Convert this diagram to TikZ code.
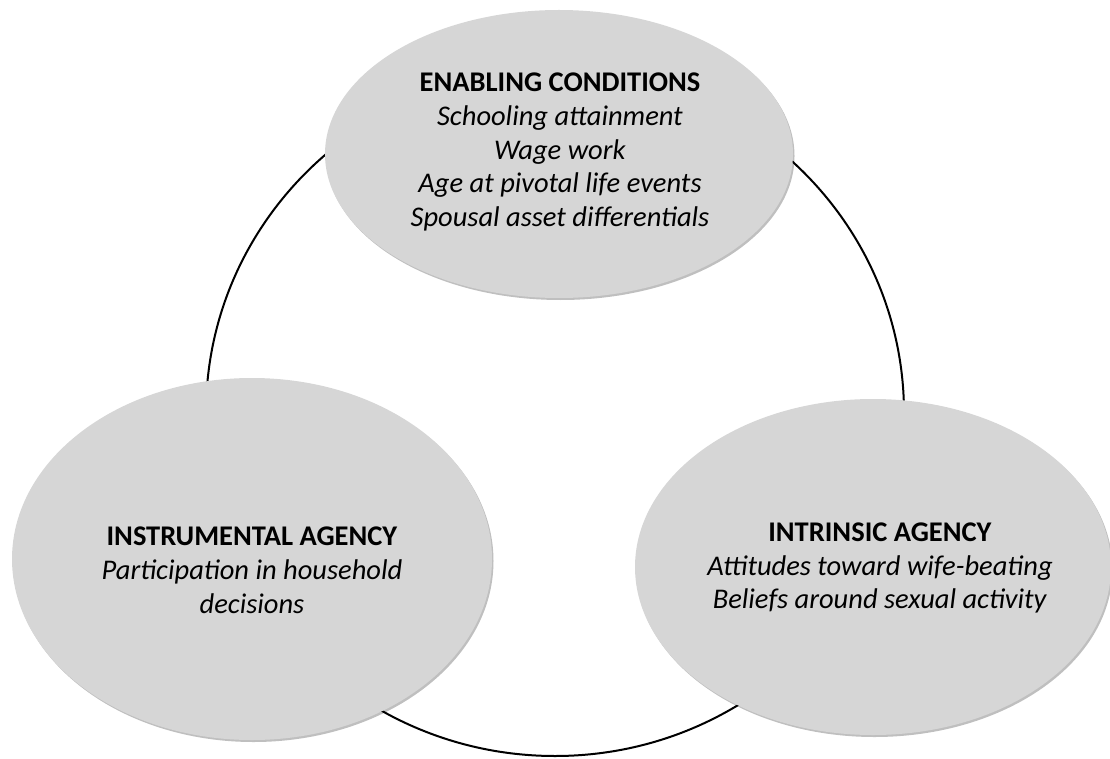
\documentclass[tikz,border=0pt]{standalone}
\usepackage{fontspec}
\setmainfont{Carlito}
\usetikzlibrary{shapes.geometric,shadows}
\definecolor{ellgray}{RGB}{214,214,214}
\begin{document}
\begin{tikzpicture}[x=1pt,y=-1pt,
  bubble/.style={ellipse, fill=ellgray, inner sep=0pt,
    drop shadow={shadow xshift=1.5pt, shadow yshift=-2pt, opacity=0.25, fill=black}},
  ringshape/.style={ellipse, draw=black, line width=2pt, inner sep=0pt},
  txt/.style={align=center, font=\fontsize{28.5}{33.8}\selectfont, text=black, inner sep=0pt}
]
\useasboundingbox (0,0) rectangle (1110,759);
\node[ringshape, minimum width=698pt, minimum height=686pt] (ring) at (555,413) {};
\node[bubble, minimum width=468pt, minimum height=288pt] (enab) at (559,154) {};
\node[bubble, minimum width=480pt, minimum height=362pt] (instr) at (252,559) {};
\node[bubble, minimum width=476pt, minimum height=336pt] (intr) at (873,567) {};
\node[txt] (enabtxt) at (560,152) {\textbf{ENABLING CONDITIONS}\\\textit{Schooling attainment}\\\textit{Wage work}\\\textit{Age at pivotal life events}\\\textit{Spousal asset differentials}};
\node[txt] (instrtxt) at (252,570) {\textbf{INSTRUMENTAL AGENCY}\\\textit{Participation in household}\\\textit{decisions}};
\node[txt] (intrtxt) at (880,568) {\textbf{INTRINSIC AGENCY}\\\textit{Attitudes toward wife-beating}\\\textit{Beliefs around sexual activity}};
\end{tikzpicture}
\end{document}
